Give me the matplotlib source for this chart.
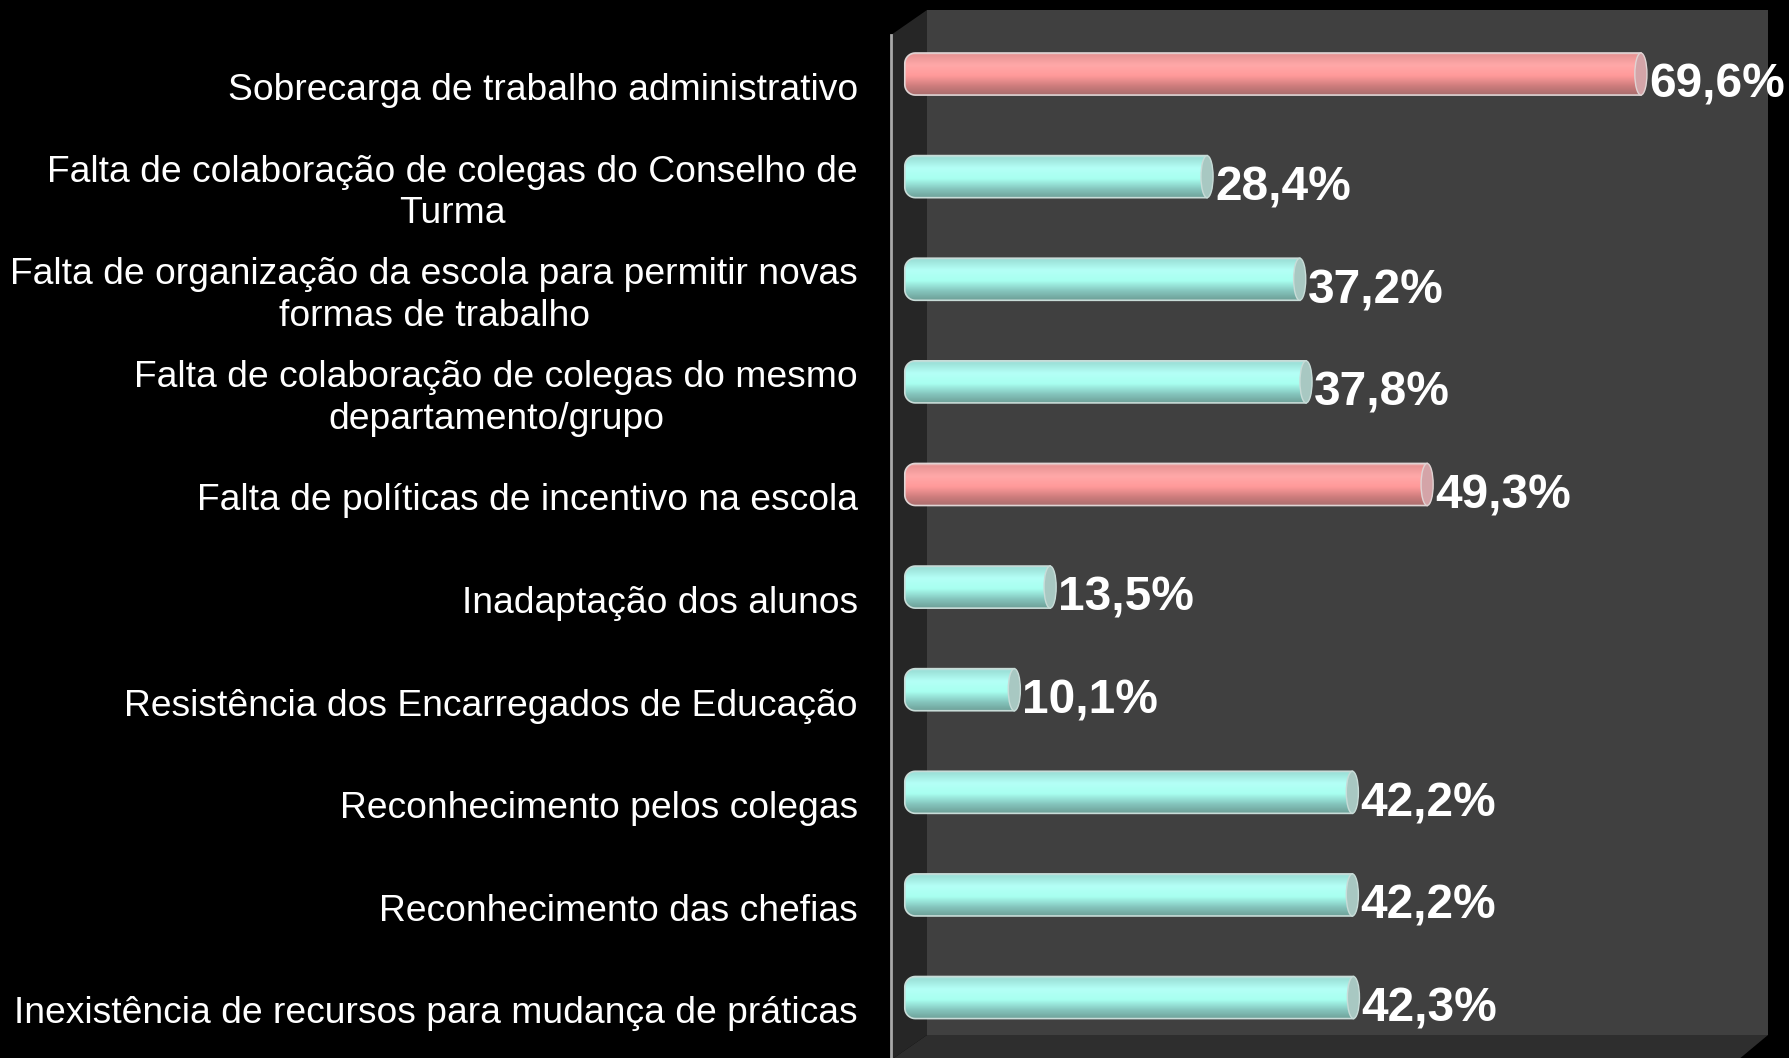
import numpy as np
import matplotlib
matplotlib.use('Agg')
import matplotlib.pyplot as plt
from matplotlib.patches import Polygon, PathPatch, Ellipse
from matplotlib.path import Path
from matplotlib.colors import LinearSegmentedColormap
import matplotlib.transforms as mtransforms

plt.rcParams['font.family'] = ['Liberation Sans', 'DejaVu Sans']

# data
categories = ['Sobrecarga de trabalho administrativo',
              'Falta de colaboração de colegas do Conselho de\nTurma',
              'Falta de organização da escola para permitir novas\nformas de trabalho',
              'Falta de colaboração de colegas do mesmo\ndepartamento/grupo',
              'Falta de políticas de incentivo na escola',
              'Inadaptação dos alunos',
              'Resistência dos Encarregados de Educação',
              'Reconhecimento pelos colegas',
              'Reconhecimento das chefias',
              'Inexistência de recursos para mudança de práticas']
values = [69.6, 28.4, 37.2, 37.8, 49.3, 13.5, 10.1, 42.2, 42.2, 42.3]
highlight = [True, False, False, False, True, False, False, False, False, False]

W, H = 1789, 1058
fig = plt.figure(figsize=(W/100, H/100), dpi=100, facecolor='black')

def px(x, y):
    return (x/W, 1 - y/H)

# 3D box: back wall, left wall, floor
fig.patches.append(Polygon([px(927, 10), px(1768, 10), px(1768, 1035), px(927, 1035)],
                           closed=True, transform=fig.transFigure, facecolor='#404040',
                           edgecolor='none', zorder=-10))
fig.patches.append(Polygon([px(891, 35), px(927, 10), px(927, 1035), px(891, 1060)],
                           closed=True, transform=fig.transFigure, facecolor='#262626',
                           edgecolor='none', zorder=-10))
fig.patches.append(Polygon([px(927, 1035), px(1768, 1035), px(1738, 1060), px(891, 1060)],
                           closed=True, transform=fig.transFigure, facecolor='#2e2e2e',
                           edgecolor='none', zorder=-10))
fig.lines.append(plt.Line2D([891/W, 891/W], [1 - 35/H, 0], transform=fig.transFigure,
                            color='#a8a8a8', linewidth=2, zorder=-9))

ax = fig.add_axes([891/W, 1 - 1035/H, (1768-891)/W, (1035-10)/H])
ax.set_facecolor('none')
ax.axis('off')

pink = LinearSegmentedColormap.from_list('pink', [(0, '#f0c8c8'), (0.06, '#e89494'), (0.3, '#ffa8a8'),
                                                  (0.55, '#ff9a9a'), (0.8, '#cc7c7c'), (1, '#a86c6c')])
cyan = LinearSegmentedColormap.from_list('cyan', [(0, '#c0e8e4'), (0.06, '#9ce0d8'), (0.3, '#b4fff6'),
                                                  (0.55, '#a8fff0'), (0.8, '#84c4bc'), (1, '#6ea098')])
grad = np.linspace(0, 1, 100).reshape(-1, 1)

bh = 0.41
rx = 1.0
ry = rx * 10.53 / 102.6
for i, v in enumerate(values):
    yt, yb = i - bh/2, i + bh/2
    x0 = -0.3
    a1 = np.linspace(np.pi/2, np.pi, 12)
    a2 = np.linspace(np.pi, 1.5*np.pi, 12)
    pts = [(v, yt)]
    pts += [(x0 + rx + rx*np.cos(a), yt + ry - ry*np.sin(a)) for a in a1]
    pts += [(x0 + rx + rx*np.cos(a), yb - ry - ry*np.sin(a)) for a in a2]
    pts += [(v, yb), (v, yt)]
    patch = PathPatch(Path(pts, closed=True), facecolor='none',
                      edgecolor='#e0d4d4' if highlight[i] else '#c8dcd8', linewidth=1.2, zorder=3)
    ax.add_patch(patch)
    im = ax.imshow(grad, cmap=pink if highlight[i] else cyan, aspect='auto',
                   extent=(x0, v, yb, yt), origin='upper', zorder=2, interpolation='bilinear')
    im.set_clip_path(patch)
    ax.add_patch(Ellipse((v, i), width=1.15, height=bh, facecolor='#d4a4a8' if highlight[i] else '#a8c8c2',
                         edgecolor='#e0d4d4' if highlight[i] else '#c8dcd8', linewidth=1, zorder=4))
    ax.text(v + 0.75, i + 0.11, ('%.1f%%' % v).replace('.', ','), color='white', fontsize=34.5,
            fontweight='bold', ha='left', va='center', zorder=5)

trans = mtransforms.blended_transform_factory(ax.transAxes, ax.transData)
for i, c in enumerate(categories):
    ax.text(-33/877, i + 0.16, c, transform=trans, color='white', fontsize=26.8,
            ha='right', va='center', multialignment='center', linespacing=1.25)

ax.set_xlim(-1.61, 81.67)
ax.set_ylim(9.365, -0.624)

plt.savefig('out.png', dpi=100, facecolor='black')
